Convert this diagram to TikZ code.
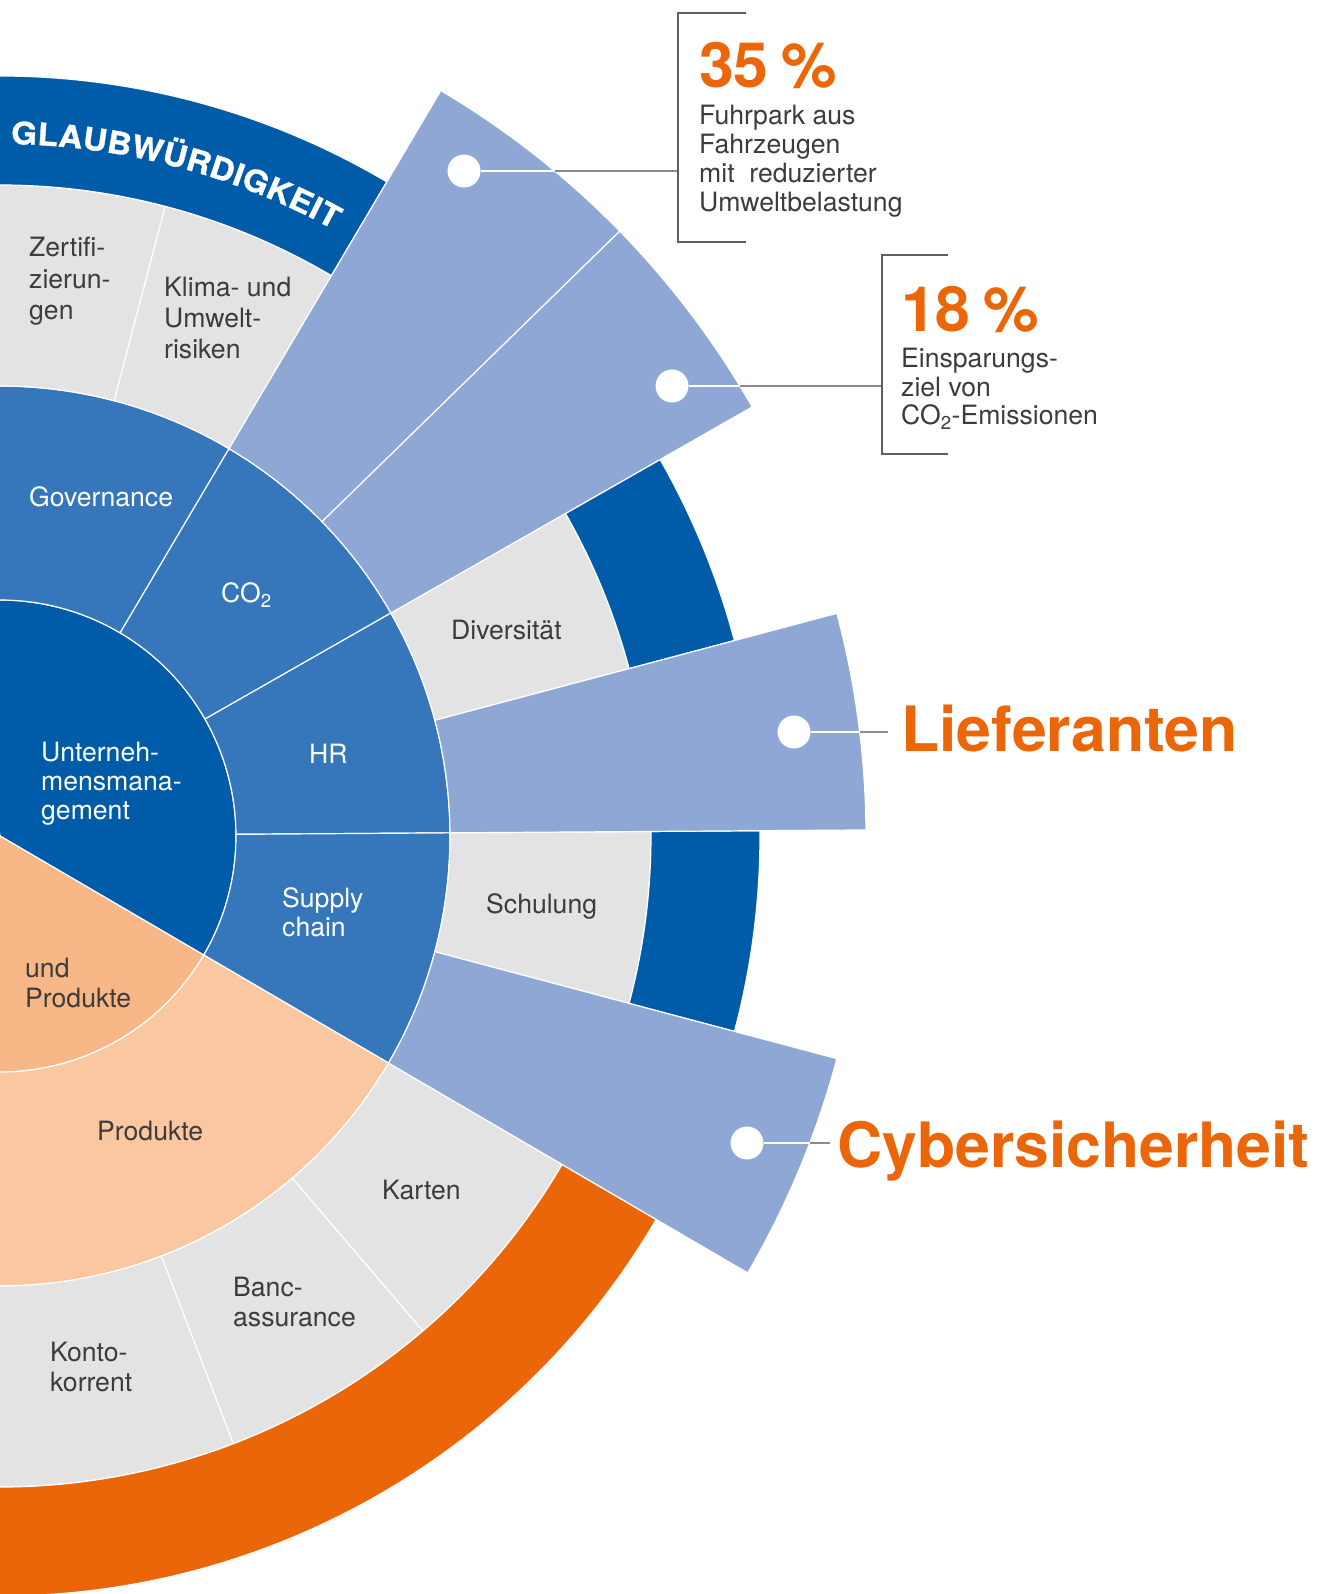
\documentclass[tikz,border=0pt]{standalone}
\usepackage{fontspec}
\setmainfont{TeX Gyre Heros}
\newfontfamily\titlefont{TeX Gyre Heros}[FakeStretch=1.07, FakeBold=1.2]
\usetikzlibrary{decorations.text}
\definecolor{dblue}{HTML}{005CA9}
\definecolor{mblue}{HTML}{3676BA}
\definecolor{lblue}{HTML}{8EA7D5}
\definecolor{sgray}{HTML}{E3E3E3}
\definecolor{oband}{HTML}{EB6608}
\definecolor{lorange}{HTML}{FAC7A0}
\definecolor{iorange}{HTML}{F7B787}
\definecolor{txtgray}{HTML}{3C3C3C}
\definecolor{leadgray}{HTML}{8A8A8A}
\definecolor{brgray}{HTML}{5F5F5F}
\newcommand\ringseg[5]{\filldraw[segline, fill=#5] (#1:#3) arc[start angle=#1, end angle=#2, radius=#3] -- (#2:#4) arc[start angle=#2, end angle=#1, radius=#4] -- cycle;}
\newcommand\pieseg[4]{\filldraw[segline, fill=#4] (0,0) -- (#1:#3) arc[start angle=#1, end angle=#2, radius=#3] -- cycle;}
\begin{document}
\begin{tikzpicture}[x=1pt,y=1pt,
  segline/.style={draw=white,line width=1.2pt,line join=round},
  lbl/.style={anchor=base west, inner sep=0pt, font=\fontsize{26.6}{29}\selectfont, text=txtgray},
  wlbl/.style={lbl, text=white},
  big/.style={anchor=base west, inner sep=0pt, font=\fontsize{62.5}{62.5}\selectfont\bfseries, text=oband},
  dot/.style={circle, fill=white, minimum size=33pt, inner sep=0pt},
  lead/.style={leadgray, line width=1.5pt},
  wlead/.style={white, line width=1.5pt},
  bracket/.style={brgray, line width=1.3pt}]
\useasboundingbox (0,-758) rectangle (1316,836);
\begin{scope}
\clip (0,-758) rectangle (1316,836);
% ring 1
\pieseg{-30.3}{100}{236}{dblue}
\pieseg{-100}{-30.3}{236}{iorange}
% ring 2
\ringseg{59.4}{100}{236}{450}{mblue}
\ringseg{29.7}{59.4}{236}{450}{mblue}
\ringseg{0.4}{29.7}{236}{450}{mblue}
\ringseg{-30.3}{0.4}{236}{450}{mblue}
\ringseg{-100}{-30.3}{236}{450}{lorange}
% ring 3
\ringseg{75.3}{100}{450}{651}{sgray}
\ringseg{59.4}{75.3}{450}{651}{sgray}
\ringseg{14.9}{29.7}{450}{651}{sgray}
\ringseg{-14.9}{0.4}{450}{651}{sgray}
\ringseg{-49.5}{-30.3}{450}{651}{sgray}
\ringseg{-69}{-49.5}{450}{651}{sgray}
\ringseg{-100}{-69}{450}{651}{sgray}
% ring 4
\ringseg{59.4}{100}{651}{760}{dblue}
\ringseg{14.9}{29.7}{651}{760}{dblue}
\ringseg{-14.9}{0.4}{651}{760}{dblue}
\ringseg{-100}{-30.3}{651}{760}{oband}
% highlighted wedges
\ringseg{44.3}{59.4}{450}{866}{lblue}
\ringseg{29.7}{44.3}{450}{866}{lblue}
\ringseg{0.4}{14.9}{450}{866}{lblue}
\ringseg{-30.3}{-14.9}{450}{866}{lblue}
\end{scope}
% curved title
\path[decorate, decoration={text along path, text={|\titlefont\fontsize{31}{31}\selectfont\bfseries\color{white}|GLAUBWÜRDIGKEIT}, text align={fit to path}}]
  (89.1:692) arc[start angle=89.1, end angle=61.2, radius=692];
% segment labels
\node[lbl] (zert1) at (29,579) {Zertifi-};
\node[lbl] (zert2) at (29,547) {zierun-};
\node[lbl] (zert3) at (29,516) {gen};
\node[lbl] (klima1) at (164,539) {Klima- und};
\node[lbl] (klima2) at (164,508) {Umwelt-};
\node[lbl] (klima3) at (164,477) {risiken};
\node[wlbl] (gov) at (29,329) {Governance};
\node[wlbl] (co2) at (221,233) {CO\textsubscript{2}};
\node[wlbl] (um1) at (41,74) {Unterneh-};
\node[wlbl] (um2) at (41,45) {mensmana-};
\node[wlbl] (um3) at (41,16) {gement};
\node[wlbl] (hr) at (309,72) {HR};
\node[lbl] (div) at (451,196) {Diversität};
\node[wlbl] (sup1) at (282,-72) {Supply};
\node[wlbl] (sup2) at (282,-101) {chain};
\node[lbl] (schul) at (486,-78) {Schulung};
\node[lbl] (undp1) at (25,-142) {und};
\node[lbl] (undp2) at (25,-171) {Produkte};
\node[lbl] (prod) at (97,-304) {Produkte};
\node[lbl] (karten) at (382,-363) {Karten};
\node[lbl] (banc1) at (233,-460) {Banc-};
\node[lbl] (banc2) at (233,-490) {assurance};
\node[lbl] (konto1) at (50,-525) {Konto-};
\node[lbl] (konto2) at (50,-555) {korrent};
% leader geometry
\coordinate (e35) at (555,665);
\coordinate (b35) at (678,665);
\coordinate (e18) at (740,450);
\coordinate (b18) at (882,450);
\coordinate (eLief) at (860,104);
\coordinate (lLief) at (888,104);
\coordinate (eCyb) at (810,-307);
\coordinate (lCyb) at (830,-307);
\coordinate (br35a) at (746,823);
\coordinate (br35b) at (678,823);
\coordinate (br35c) at (678,594);
\coordinate (br35d) at (746,594);
\coordinate (br18a) at (948,581);
\coordinate (br18b) at (882,581);
\coordinate (br18c) at (882,382);
\coordinate (br18d) at (948,382);
\node[dot] (d35) at (464,665) {};
\node[dot] (d18) at (672,450) {};
\node[dot] (dLief) at (794,104) {};
\node[dot] (dCyb) at (747,-307) {};
\draw[wlead] (d35.east) -- (e35);
\draw[lead] (e35) -- (b35);
\draw[wlead] (d18.east) -- (e18);
\draw[lead] (e18) -- (b18);
\draw[wlead] (dLief.east) -- (eLief);
\draw[lead] (eLief) -- (lLief);
\draw[wlead] (dCyb.east) -- (eCyb);
\draw[lead] (eCyb) -- (lCyb);
\draw[bracket] (br35a) -- (br35b) -- (br35c) -- (br35d);
\draw[bracket] (br18a) -- (br18b) -- (br18c) -- (br18d);
% callout texts
\node[big] (p35) at (699,748) {35\hspace{0.2em}\%};
\node[lbl] (t35a) at (699,711) {Fuhrpark aus};
\node[lbl] (t35b) at (699,682) {Fahrzeugen};
\node[lbl] (t35c) at (699,653) {mit \ reduzierter};
\node[lbl] (t35d) at (699,624) {Umweltbelastung};
\node[big] (p18) at (901,504) {18\hspace{0.2em}\%};
\node[lbl] (t18a) at (901,468) {Einsparungs-};
\node[lbl] (t18b) at (901,439) {ziel von};
\node[lbl] (t18c) at (901,411) {CO\textsubscript{2}-Emissionen};
\node[big] (lief) at (901,84) {Lieferanten};
\node[big] (cyb) at (837,-331) {Cybersicherheit};
\end{tikzpicture}
\end{document}
